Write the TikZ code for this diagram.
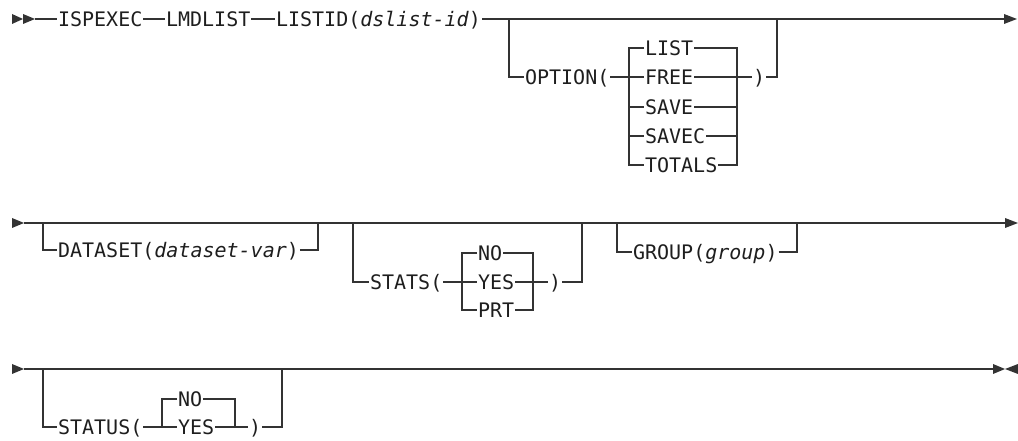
\documentclass[tikz,border=0pt]{standalone}
\usepackage{fontspec}
\newfontfamily\rrfont{DejaVu Sans Mono}
\definecolor{ln}{HTML}{333333}
\definecolor{tx}{HTML}{1E1E1E}
\begin{document}
\begin{tikzpicture}[x=0.75pt,y=-0.75pt,
  rr/.style={draw=ln, line width=1pt},
  kw/.style={font=\rrfont\fontsize{15pt}{17pt}\selectfont, text=tx, inner xsep=0.6pt, inner ysep=0pt, text height=10.9pt, text depth=0pt, anchor=west},
  tipfill/.style={fill=ln, draw=none}]
\useasboundingbox (0,0) rectangle (1018,441);

% ---------- Row 1 ----------
\coordinate (s1) at (35,19);
\coordinate (e1) at (1004,19);
\node[kw] (isp) at (57,19) {ISPEXEC};
\node[kw] (lmd) at (165,19) {LMDLIST};
\node[kw] (lid) at (275,19) {LISTID(\textit{dslist-id})};
\draw[rr] (s1) -- (isp.west);
\draw[rr] (isp.east) -- (lmd.west);
\draw[rr] (lmd.east) -- (lid.west);
\draw[rr] (lid.east) -- (e1);
\fill[tipfill] (12,14) -- (23,19) -- (12,24) -- cycle;
\fill[tipfill] (23,14) -- (35,19) -- (23,24) -- cycle;
\fill[tipfill] (e1) ++(0,-5) -- ++(13,5) -- ++(-13,5) -- cycle;

\coordinate (b1) at (509,19);
\coordinate (c1) at (777,19);
\coordinate (vL1) at (629,0);
\coordinate (vR1) at (737,0);
\node[kw] (opt) at (524,77) {OPTION(};
\node[kw] (ol) at (644,48) {LIST};
\node[kw] (of) at (644,77) {FREE};
\node[kw] (os) at (644,107) {SAVE};
\node[kw] (oc) at (644,136) {SAVEC};
\node[kw] (ot) at (644,165) {TOTALS};
\node[kw] (orp) at (752,77) {)};
\draw[rr] (b1) |- (opt.west);
\draw[rr] (opt.east) -- (of.west);
\draw[rr] (ol.west) -| (vL1 |- ot.west) -- (ot.west);
\draw[rr] (vL1 |- os.west) -- (os.west);
\draw[rr] (vL1 |- oc.west) -- (oc.west);
\draw[rr] (ol.east) -| (vR1 |- ot.east) -- (ot.east);
\draw[rr] (os.east) -- (vR1 |- os.east);
\draw[rr] (oc.east) -- (vR1 |- oc.east);
\draw[rr] (of.east) -- (orp.west);
\draw[rr] (orp.east) -| (c1);

% ---------- Row 2 ----------
\coordinate (s2) at (24,223);
\coordinate (e2) at (1005,223);
\draw[rr] (s2) -- (e2);
\fill[tipfill] (12,218) -- (24,223) -- (12,228) -- cycle;
\fill[tipfill] (e2) ++(0,-5) -- ++(13,5) -- ++(-13,5) -- cycle;

\coordinate (b2a) at (43,223);
\coordinate (c2a) at (318,223);
\node[kw] (ds) at (57,250) {DATASET(\textit{dataset-var})};
\draw[rr] (b2a) |- (ds.west);
\draw[rr] (ds.east) -| (c2a);

\coordinate (b2b) at (353,223);
\coordinate (c2b) at (582,223);
\coordinate (vL2) at (462,0);
\coordinate (vR2) at (533,0);
\node[kw] (st) at (369,282) {STATS(};
\node[kw] (n2) at (477,253) {NO};
\node[kw] (y2) at (477,282) {YES};
\node[kw] (p2) at (477,310) {PRT};
\node[kw] (srp) at (548,282) {)};
\draw[rr] (b2b) |- (st.west);
\draw[rr] (st.east) -- (y2.west);
\draw[rr] (n2.west) -| (vL2 |- p2.west) -- (p2.west);
\draw[rr] (n2.east) -| (vR2 |- p2.east) -- (p2.east);
\draw[rr] (y2.east) -- (srp.west);
\draw[rr] (srp.east) -| (c2b);

\coordinate (b2c) at (617,223);
\coordinate (c2c) at (797,223);
\node[kw] (gr) at (632,252) {GROUP(\textit{group})};
\draw[rr] (b2c) |- (gr.west);
\draw[rr] (gr.east) -| (c2c);

% ---------- Row 3 ----------
\coordinate (s3) at (24,369);
\coordinate (e3) at (993,369);
\draw[rr] (s3) -- (e3);
\fill[tipfill] (12,364) -- (24,369) -- (12,374) -- cycle;
\fill[tipfill] (993,364) -- (1005,369) -- (993,374) -- cycle;
\fill[tipfill] (1018,364) -- (1005,369) -- (1018,374) -- cycle;
\draw[ln, line width=2.2pt] (288,369) -- (312,369);

\coordinate (b3) at (43,369);
\coordinate (c3) at (282,369);
\coordinate (vL3) at (162,0);
\coordinate (vR3) at (235,0);
\node[kw] (su) at (57,427) {STATUS(};
\node[kw] (n3) at (177,399) {NO};
\node[kw] (y3) at (177,427) {YES};
\node[kw] (urp) at (248,427) {)};
\draw[rr] (b3) |- (su.west);
\draw[rr] (su.east) -- (y3.west);
\draw[rr] (n3.west) -| (vL3 |- y3.west);
\draw[rr] (n3.east) -| (vR3 |- y3.east);
\draw[rr] (y3.east) -- (urp.west);
\draw[rr] (urp.east) -| (c3);
\end{tikzpicture}
\end{document}
